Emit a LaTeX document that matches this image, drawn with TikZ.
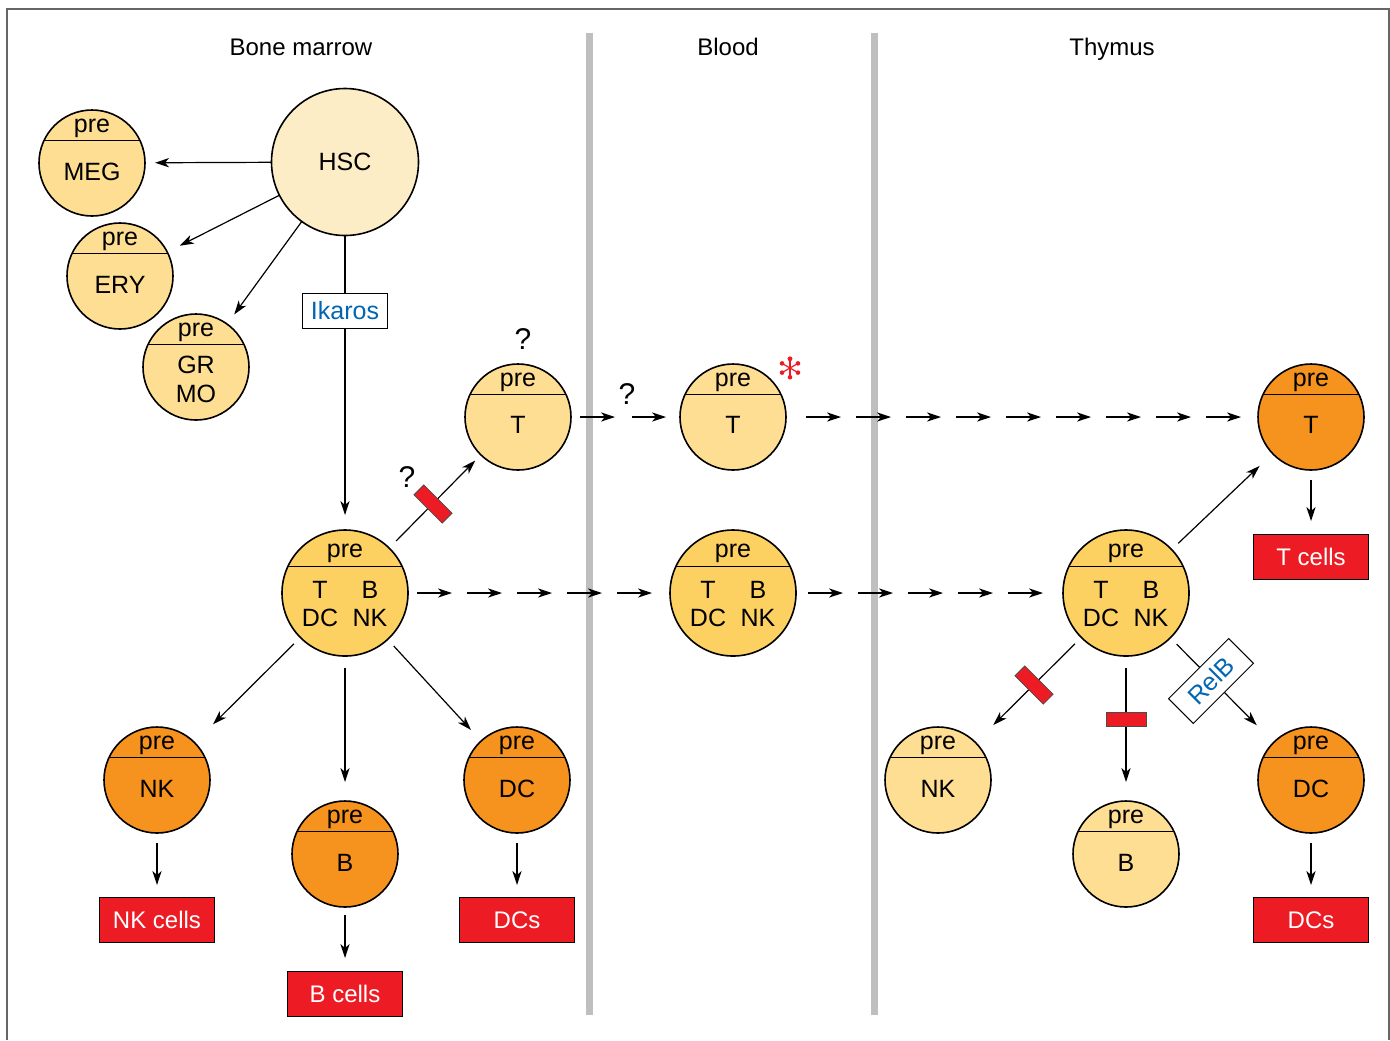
\documentclass[tikz,border=0pt]{standalone}
\usepackage{fontspec}
\setmainfont{Liberation Sans}
\usetikzlibrary{arrows.meta,calc}
\definecolor{stemfill}{RGB}{253,237,198}
\definecolor{lightfill}{RGB}{254,222,146}
\definecolor{midfill}{RGB}{253,208,98}
\definecolor{orangefill}{RGB}{246,146,30}
\definecolor{cellred}{RGB}{237,28,36}
\definecolor{regblue}{RGB}{0,102,179}
\definecolor{bargray}{RGB}{191,191,191}
\tikzset{
 cell/.style={circle,draw,line width=0.8pt,inner sep=0pt,outer sep=0pt,minimum size=53pt},
 multi/.style={cell,minimum size=63pt},
 txt/.style={inner sep=0pt,align=center,font=\fontsize{12.5}{14.5}\selectfont},
 region/.style={anchor=base,inner sep=0pt,font=\fontsize{12}{14}\selectfont},
 ques/.style={inner sep=0pt,font=\fontsize{15}{17}\selectfont},
 mature/.style={draw,fill=cellred,text=white,line width=0.5pt,minimum width=57.5pt,minimum height=22.5pt,inner sep=0pt,font=\fontsize{12}{14}\selectfont},
 regbox/.style={draw,fill=white,text=regblue,line width=0.5pt,minimum width=42.5pt,minimum height=17.5pt,inner sep=0pt,font=\fontsize{12.5}{14}\selectfont},
 inh/.style={draw=black!70,fill=cellred,line width=0.4pt,minimum width=20pt,minimum height=7pt,inner sep=0pt},
 arr/.style={line width=0.6pt,-{Stealth[length=7pt,width=4.6pt,inset=2pt]}},
 sep/.style={bargray,line width=3.5pt}
}
\begin{document}
\begin{tikzpicture}[x=0.5pt,y=-0.5pt]
 \useasboundingbox (0,0) rectangle (1390,1040);
 \draw[black!60,line width=0.7pt] (7,1040) -- (7,9) -- (1389,9) -- (1389,1040);
 \draw[sep] (589,33) -- (589,1015);
 \draw[sep] (874,33) -- (874,1015);

 \node[region] (bm) at (301,55) {Bone marrow};
 \node[region] (blood) at (728,55) {Blood};
 \node[region] (thymus) at (1112,55) {Thymus};

 \node[cell,fill=stemfill,minimum size=73.5pt] (hsc) at (345,162) {};
 \node[txt] (hsc-name) at (hsc.center) {HSC};

 \foreach \n/\x/\y/\c/\t/\d in {meg/92/163/lightfill/MEG/-4.3, ery/120/276/lightfill/ERY/-4.3,
   grmo/196/367/lightfill/GR\\MO/-6, bmT/518/417/lightfill/T/-3.8, blT/733/417/lightfill/T/-3.8,
   thT/1311/417/orangefill/T/-3.8, bmNK/157/780/orangefill/NK/-4.3, bmB/345/854/orangefill/B/-4.3,
   bmDC/517/780/orangefill/DC/-4.3, thNK/938/780/lightfill/NK/-4.3, thB/1126/854/lightfill/B/-4.3,
   thDC/1311/780/orangefill/DC/-4.3}{
  \node[cell,fill=\c] (\n) at (\x,\y) {};
  \draw[line width=0.75pt] (\n.25) -- (\n.155);
  \node[txt] (\n-pre) at ([yshift=17.2pt]\n.center) {pre};
  \node[txt] (\n-name) at ([yshift=\d pt]\n.center) {\t};
 }

 \foreach \n/\x in {bmM/345, blM/733, thM/1126}{
  \node[multi,fill=midfill] (\n) at (\x,593) {};
  \draw[line width=0.75pt] (\n.25) -- (\n.155);
  \node[txt] (\n-pre) at ([yshift=19.6pt]\n.center) {pre};
  \node[txt,font=\fontsize{12.5}{14}\selectfont] (\n-name) at ([yshift=-5.3pt]\n.center)
   {\makebox[25pt]{T}\makebox[25pt]{B}\\\makebox[25pt]{DC}\makebox[25pt]{NK}};
 }

 \node[mature] (nkcells) at (157,920) {NK cells};
 \node[mature] (bcells) at (345,994) {B cells};
 \node[mature] (dcs) at (517,920) {DCs};
 \node[mature] (tcells) at (1311,557) {T cells};
 \node[mature] (thdcs) at (1311,920) {DCs};

 \draw[arr,shorten >=5pt] (hsc) -- (meg);
 \draw[arr,shorten >=7pt] (hsc) -- (ery);
 \draw[arr,shorten >=6pt] (hsc) -- (grmo);
 \draw[arr,shorten >=7.5pt] (hsc) -- (bmM);
 \node[regbox] (ikaros) at (345,311) {Ikaros};

 \draw[arr,shorten <=5pt,shorten >=4pt] (bmM) -- (bmT);
 \node[inh,rotate=-45] (stop1) at (433,504) {};
 \node[ques] (q1) at (523,339) {?};
 \node[ques] (q2) at (407,477) {?};
 \node[ques] (q3) at (627,394) {?};
 \coordinate (gap) at (626,417);
 \draw[arr,shorten <=4.5pt,shorten >=5.5pt] (bmT) -- (gap);
 \draw[arr,shorten <=3pt,shorten >=7pt] (gap) -- (blT);

 \coordinate (star) at (790,368);
 \foreach \a in {90,150,...,450}{
  \draw[cellred,line width=0.6pt] (star) -- ++(\a:4.3pt);
  \fill[cellred] ($(star)+(\a:4.6pt)$) circle (1.15pt);
 }

 \foreach \i in {0,...,8} \draw[arr] ($(blT.east)+(20+50*\i,0)$) -- ++(35,0);
 \foreach \i in {0,...,4} \draw[arr] ($(bmM.east)+(9+50*\i,0)$) -- ++(35,0);
 \foreach \i in {0,...,4} \draw[arr] ($(blM.east)+(12+50*\i,0)$) -- ++(35,0);

 \draw[arr,shorten <=4.5pt,shorten >=13pt] (bmM) -- (bmNK);
 \draw[arr,shorten <=6pt,shorten >=9.5pt] (bmM) -- (bmB);
 \draw[arr,shorten <=4.5pt,shorten >=7.5pt] (bmM) -- (bmDC);
 \draw[arr,shorten <=5pt,shorten >=6pt] (bmNK) -- (nkcells);
 \draw[arr,shorten <=4pt,shorten >=6.5pt] (bmB) -- (bcells);
 \draw[arr,shorten <=5pt,shorten >=6pt] (bmDC) -- (dcs);

 \draw[arr,shorten <=4.5pt,shorten >=9pt] (thM) -- (thT);
 \draw[arr,shorten <=5pt,shorten >=6.5pt] (thT) -- (tcells);
 \draw[arr,shorten <=4.5pt,shorten >=12.5pt] (thM) -- (thNK);
 \node[inh,rotate=-45] (stop2) at (1034,685) {};
 \draw[arr,shorten <=6pt,shorten >=9.5pt] (thM) -- (thB);
 \node[inh] (stop3) at (1126,719) {};
 \draw[arr,shorten <=4.5pt,shorten >=12pt] (thM) -- (thDC);
 \node[regbox,rotate=45] (relb) at (1211,681) {RelB};
 \draw[arr,shorten <=5pt,shorten >=6pt] (thDC) -- (thdcs);
\end{tikzpicture}
\end{document}
